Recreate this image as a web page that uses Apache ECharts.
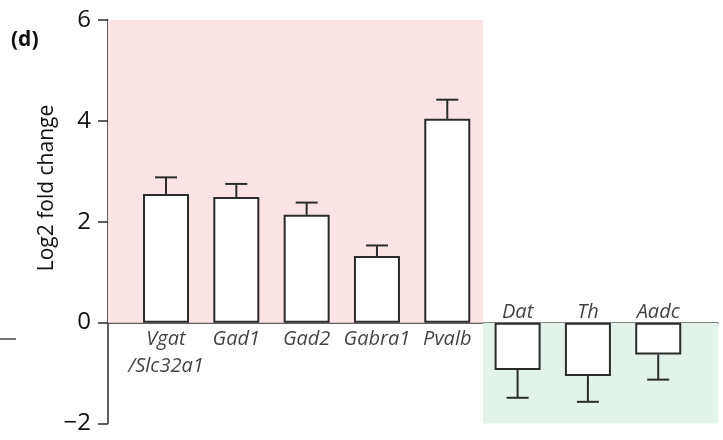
<!DOCTYPE html>
<html><head><meta charset="utf-8">
<script src="https://cdn.jsdelivr.net/npm/echarts@6/dist/echarts.min.js"></script>
<style>html,body{margin:0;padding:0;background:#fff}#c{width:723px;height:440px}</style>
</head><body><div id="c"></div>
<script>
var categories = ['Vgat\n/Slc32a1', 'Gad1', 'Gad2', 'Gabra1', 'Pvalb', 'Dat', 'Th', 'Aadc'];
var values = [2.55, 2.49, 2.14, 1.32, 4.04, -0.94, -1.06, -0.63];
var errors = [0.33, 0.26, 0.24, 0.21, 0.38, 0.55, 0.51, 0.50];
var yTicks = [-2, 0, 2, 4, 6];
var upBoundary = 4.51;

var FONT = '"Open Sans", sans-serif';
var INK = '#2b2b2b';

var barData = values.map(function (v, i) { return [i, v]; });
var errData = values.map(function (v, i) { return [i, v, errors[i]]; });
var labelData = categories.map(function (c, i) {
  var up = values[i] >= 0;
  return { value: [i, 0], label: up ? { position: 'bottom', distance: 3 } : { position: 'top', distance: 0, offset: [0, 3] } };
});

var chart = echarts.init(document.getElementById('c'), null, { renderer: 'canvas' });
chart.setOption({
  animation: false,
  grid: { left: 108, right: 5, top: 20, bottom: 16.5 },
  xAxis: {
    type: 'value', min: -0.825, max: 7.85,
    axisLine: { show: true, onZero: true, lineStyle: { color: INK, width: 1.5 } },
    axisTick: { show: false }, axisLabel: { show: false }, splitLine: { show: false }
  },
  yAxis: {
    type: 'value', min: yTicks[0], max: yTicks[yTicks.length - 1], interval: 2,
    axisLine: { show: true, onZero: false, lineStyle: { color: INK, width: 1.5 } },
    axisTick: { show: true, length: 10, lineStyle: { color: INK, width: 1.5 } },
    axisLabel: { fontFamily: FONT, fontSize: 24, color: '#111', margin: 17,
      formatter: function (v) { return v < 0 ? '\u2212' + Math.abs(v) : String(v); } },
    splitLine: { show: false }
  },
  graphic: [
    { type: 'text', left: 11, top: 30, style: { text: '(d)', font: 'bold 21px ' + FONT, fill: '#111' } },
    { type: 'text', x: 47, y: 188, rotation: Math.PI / 2,
      style: { text: 'Log2 fold change', font: '21px ' + FONT, fill: '#111', textAlign: 'center', textVerticalAlign: 'middle' } },
    { type: 'line', shape: { x1: 0, y1: 339, x2: 16, y2: 339 }, style: { stroke: '#444', lineWidth: 1.5 } }
  ],
  series: [
    {
      type: 'bar', data: barData, barWidth: 46,
      itemStyle: { color: '#ffffff', borderColor: INK, borderWidth: 2 },
      markArea: {
        silent: true,
        data: [
          [{ coord: [-0.825, 0], itemStyle: { color: '#fce4e6' } }, { coord: [upBoundary, 6] }],
          [{ coord: [upBoundary, 0], itemStyle: { color: '#e4f3ea' } }, { coord: [7.85, -2.05] }]
        ]
      },
      z: 3
    },
    {
      type: 'custom', data: errData, z: 4,
      renderItem: function (params, api) {
        var x = api.value(0), v = api.value(1), e = api.value(2);
        var end = v >= 0 ? v + e : v - e;
        var p0 = api.coord([x, v]), p1 = api.coord([x, end]);
        var st = { stroke: INK, lineWidth: 2 };
        return { type: 'group', children: [
          { type: 'line', shape: { x1: p0[0], y1: p0[1], x2: p1[0], y2: p1[1] }, style: st },
          { type: 'line', shape: { x1: p1[0] - 11, y1: p1[1], x2: p1[0] + 11, y2: p1[1] }, style: st }
        ] };
      }
    },
    {
      type: 'scatter', data: labelData, symbolSize: 0, z: 5, silent: true,
      label: {
        show: true, fontFamily: FONT, fontStyle: 'italic', fontSize: 20, lineHeight: 27, color: '#111',
        formatter: function (p) { return categories[p.dataIndex]; }
      }
    }
  ]
});
</script></body></html>
